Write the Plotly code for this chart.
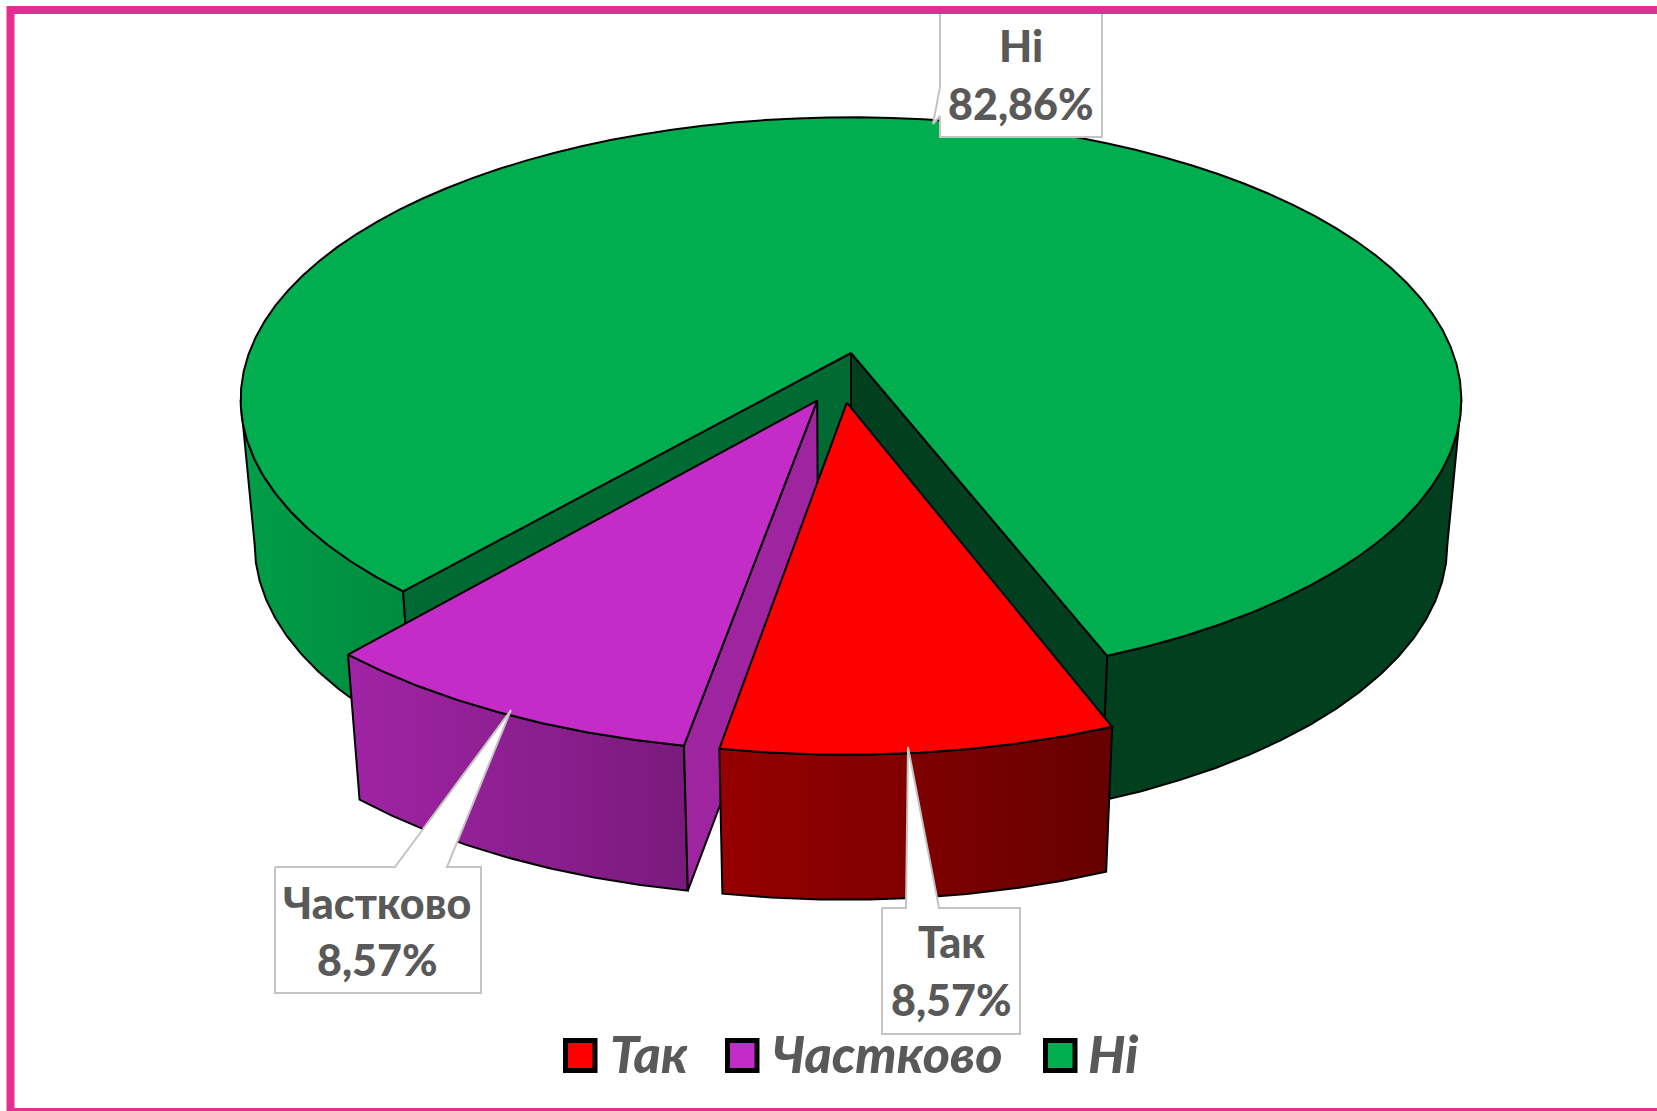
import numpy as np
import plotly.graph_objects as go

categories = ["Так", "Частково", "Ні"]
values = [8.57, 8.57, 82.86]

FIRST_ANGLE = 158.9
CX, CY = 851.0, 353.0
A, B, K = 602.0, 274.6, 0.165
DEPTH = 145.0
SHRINK = 0.977
OFFSETS = {"Так": (-0.0068, -0.1757), "Частково": (-0.0546, -0.1684), "Ні": (0.0, 0.0)}
RADII = {"Так": 1.003, "Частково": 1.003, "Ні": 1.0}
TOP = {"Так": "#ff0000", "Частково": "#c42cc8", "Ні": "#00ae4f"}
INK = "#000000"
TEXT = "#595959"
FONT = "Lato"
W, H = 1657, 1111
TANGENT = np.degrees(np.arcsin(K))


def project(px, py, low=False):
    w = 1 + K * py
    x = A * px / w
    y = B * py / w
    if low:
        return CX + SHRINK * x, CY - y + DEPTH
    return CX + x, CY - y


def rim(name, a0, a1, low=False):
    n = max(2, int(abs(a1 - a0) / 3.5) + 1)
    t = np.radians(np.linspace(a0, a1, n))
    ox, oy = OFFSETS[name]
    r = RADII[name]
    return project(ox + r * np.sin(t), oy + r * np.cos(t), low)


def hub(name, low=False):
    ox, oy = OFFSETS[name]
    x, y = project(np.array([ox]), np.array([oy]), low)
    return x, y


fig = go.Figure()


def poly(x, y, fill=None, grad=None, name=None, lw=2, line=INK):
    kw = dict(fillgradient=dict(type="horizontal", colorscale=[[0, grad[0]], [1, grad[1]]])) if grad else dict(fillcolor=fill)
    fig.add_trace(go.Scatter(x=list(x) + [x[0]], y=list(y) + [y[0]], mode="lines", fill="toself",
                             line=dict(color=line, width=lw), hoverinfo="skip", showlegend=False, name=name, **kw))


def outer_wall(name, a0, a1, fill=None, grad=None):
    tx, ty = rim(name, a0, a1)
    bx, by = rim(name, a0, a1, True)
    poly(np.r_[tx, bx[::-1]], np.r_[ty, by[::-1]], fill, grad, name)


def radial_wall(name, a, fill):
    tx, ty = rim(name, a, a)
    bx, by = rim(name, a, a, True)
    hx, hy = hub(name)
    lx, ly = hub(name, True)
    poly([hx[0], tx[0], bx[0], lx[0]], [hy[0], ty[0], by[0], ly[0]], fill, None, name)


def top_face(name, a0, a1):
    tx, ty = rim(name, a0, a1)
    hx, hy = hub(name)
    poly(np.r_[hx, tx], np.r_[hy, ty], TOP[name], None, name)


sweeps = [v / sum(values) * 360 for v in values]
s_yes = (FIRST_ANGLE, FIRST_ANGLE + sweeps[0])
s_part = (s_yes[1], s_yes[1] + sweeps[1])
s_no = (s_part[1], s_part[1] + sweeps[2])

# Green slice
outer_wall("Ні", 270 - TANGENT, s_no[0], grad=("#009e49", "#008a3d"))
outer_wall("Ні", 360 + 90 + TANGENT, s_no[1], fill="#00401f")
radial_wall("Ні", s_no[0], "#006a33")
radial_wall("Ні", s_no[1], "#00401f")
top_face("Ні", s_no[0], s_no[1])

# Purple slice
outer_wall("Частково", s_part[1], s_part[0], grad=("#a024a5", "#7a1a7c"))
radial_wall("Частково", s_part[0], "#9f25a0")
top_face("Частково", s_part[0], s_part[1])

# Red slice
outer_wall("Так", s_yes[1], s_yes[0], grad=("#960000", "#660000"))
top_face("Так", s_yes[0], s_yes[1])

# Data-label callouts
BOX = "#c4c4c4"
callouts = {
    "Частково": ([275, 395, 511, 447, 481, 481, 275], [867, 867, 710, 867, 867, 993, 993]),
    "Так": ([882, 906, 908, 939, 1020, 1020, 882], [908, 908, 747, 908, 908, 1034, 1034]),
    "Ні": ([940, 1102, 1102, 940, 940, 933, 940], [10, 10, 137, 137, 116, 124, 87]),
}
for name, (x, y) in callouts.items():
    poly(x, y, "#ffffff", None, name, lw=2, line=BOX)

label_pos = {
    "Частково": (377, 902, 959),
    "Так": (951, 941, 999),
    "Ні": (1021, 45, 103),
}
annotations = []
for name, val in zip(categories, values):
    cx, y1, y2 = label_pos[name]
    for txt, y in ((name, y1), (f"{val:.2f}%".replace(".", ","), y2)):
        annotations.append(dict(x=cx, y=y, xref="x", yref="y", text=txt, showarrow=False,
                                xanchor="center", yanchor="middle",
                                font=dict(family=FONT, size=43, weight=900, color=TEXT)))

# Legend
legend_x = {"Так": (563, 608), "Частково": (725, 770), "Ні": (1043, 1086)}
shapes = []
for name in categories:
    sx, tx = legend_x[name]
    shapes.append(dict(type="rect", xref="x", yref="y", x0=sx + 2.5, x1=sx + 32, y0=1040.5, y1=1070.5,
                       line=dict(color=INK, width=5), fillcolor=TOP[name]))
    annotations.append(dict(x=tx, y=1053, xref="x", yref="y", text=name, showarrow=False,
                            xanchor="left", yanchor="middle",
                            font=dict(family=FONT, size=52, weight=900, style="italic", color=TEXT)))

# Pink frame
shapes.append(dict(type="rect", xref="x", yref="y", x0=10.5, x1=W + 10, y0=10, y1=1112,
                   line=dict(color="#e32d91", width=8), fillcolor="rgba(0,0,0,0)", layer="above"))

fig.update_layout(
    width=W, height=H, autosize=False, margin=dict(l=0, r=0, t=0, b=0),
    paper_bgcolor="#ffffff", plot_bgcolor="#ffffff", showlegend=False,
    xaxis=dict(range=[0, W], visible=False, fixedrange=True),
    yaxis=dict(range=[H, 0], visible=False, fixedrange=True),
    shapes=shapes, annotations=annotations,
)
fig.write_html("out.html", config=dict(displayModeBar=False),
               post_script="document.body.style.margin='0';document.documentElement.style.overflow='hidden';")
